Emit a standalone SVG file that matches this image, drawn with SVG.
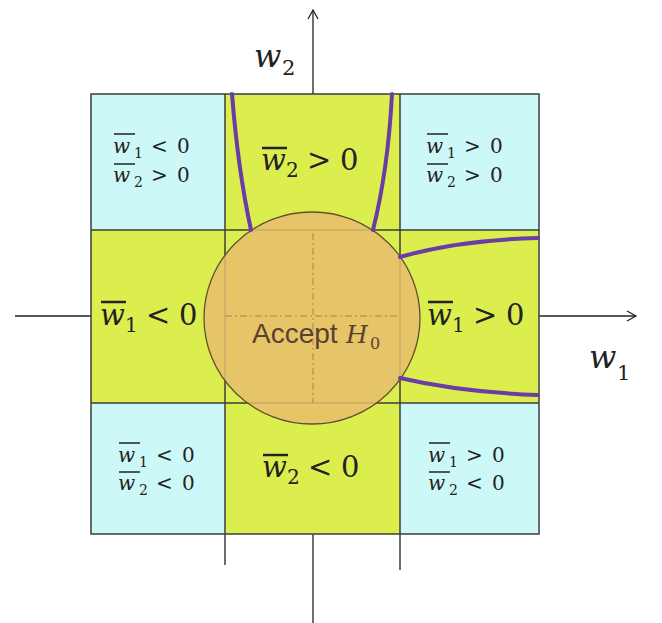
<svg xmlns="http://www.w3.org/2000/svg" width="662" height="623" viewBox="0 0 662 623">
<style>
.cy{fill:#cdf8f8}
.yg{fill:#dcee4e}
.grid{stroke:#3a3d40;stroke-width:1.5;fill:none}
.axis{stroke:#222;stroke-width:1.3;fill:none}
.purp{stroke:#6a3ca6;stroke-width:4;fill:none;stroke-linecap:round}
.m{font-family:"DejaVu Serif",serif;fill:#222}
.it{font-style:italic}
.ov{stroke:#222}
.s{font-size:20px}
.l{font-size:29px}
.ss{font-size:14px}
.ls{font-size:20px}
</style>
<rect width="662" height="623" fill="#ffffff"/>
<g id="axes">
<line class="axis" x1="313" y1="10" x2="313" y2="94"/>
<line class="axis" x1="313" y1="534" x2="313" y2="623"/>
<line class="axis" x1="15" y1="316" x2="91" y2="316"/>
<line class="axis" x1="539" y1="316" x2="636" y2="316"/>
<polyline class="axis" points="308,19 313,10 318,19"/>
<polyline class="axis" points="627,311 636,316 627,321"/>
</g>
<g id="cells">
<rect class="cy" x="91" y="94" width="134" height="136"/>
<rect class="cy" x="400" y="94" width="139" height="136"/>
<rect class="cy" x="91" y="403" width="134" height="131"/>
<rect class="cy" x="400" y="403" width="139" height="131"/>
<rect class="yg" x="225" y="94" width="175" height="440"/>
<rect class="yg" x="91" y="230" width="448" height="173"/>
</g>
<g id="grid">
<rect class="grid" x="91" y="94" width="448" height="440"/>
<line class="grid" x1="225" y1="94" x2="225" y2="565"/>
<line class="grid" x1="400" y1="94" x2="400" y2="570"/>
<line class="grid" x1="91" y1="230" x2="539" y2="230"/>
<line class="grid" x1="91" y1="403" x2="539" y2="403"/>
</g>
<g id="accept">
<ellipse cx="312" cy="318" rx="108" ry="106" fill="#e8bd6e" fill-opacity="0.85" stroke="#5e5030" stroke-width="1.3"/>
<line x1="313" y1="233" x2="313" y2="403" stroke="#a8873a" stroke-width="1" stroke-dasharray="7,3,2,3"/>
<line x1="225" y1="316" x2="400" y2="316" stroke="#a8873a" stroke-width="1" stroke-dasharray="7,3,2,3"/>
<text y="343" font-family="Liberation Sans, Arial, sans-serif" font-size="28" fill="#5a4030"><tspan x="252">Accept</tspan><tspan x="346" font-family="DejaVu Serif, serif" font-style="italic" font-size="25">H</tspan></text>
<text x="370" y="349" font-family="DejaVu Serif, serif" font-size="16" fill="#5a4030">0</text>
</g>
<g id="boundaries">
<path class="purp" d="M232,94 Q238,170 251,230"/>
<path class="purp" d="M392,94 Q388,170 373,230"/>
<path class="purp" d="M400,257 Q460,240 538,238"/>
<path class="purp" d="M400,378 Q460,392 538,395"/>
</g>
<g id="label-tl">
<text class="m s"><tspan class="it" x="113" y="153">w</tspan><tspan class="ss" x="134" y="158">1</tspan><tspan x="151" y="153">&lt;</tspan><tspan x="177" y="153">0</tspan></text>
<line class="ov" x1="114" y1="134" x2="135" y2="134" stroke-width="1.5"/>
<text class="m s"><tspan class="it" x="113" y="182">w</tspan><tspan class="ss" x="134" y="187">2</tspan><tspan x="151" y="182">&gt;</tspan><tspan x="177" y="182">0</tspan></text>
<line class="ov" x1="114" y1="164" x2="135" y2="164" stroke-width="1.5"/>
</g>
<g id="label-tr">
<text class="m s"><tspan class="it" x="426" y="153">w</tspan><tspan class="ss" x="447" y="158">1</tspan><tspan x="464" y="153">&gt;</tspan><tspan x="490" y="153">0</tspan></text>
<line class="ov" x1="427" y1="134" x2="448" y2="134" stroke-width="1.5"/>
<text class="m s"><tspan class="it" x="426" y="182">w</tspan><tspan class="ss" x="447" y="187">2</tspan><tspan x="464" y="182">&gt;</tspan><tspan x="490" y="182">0</tspan></text>
<line class="ov" x1="427" y1="164" x2="448" y2="164" stroke-width="1.5"/>
</g>
<g id="label-bl">
<text class="m s"><tspan class="it" x="118" y="462">w</tspan><tspan class="ss" x="139" y="467">1</tspan><tspan x="156" y="462">&lt;</tspan><tspan x="182" y="462">0</tspan></text>
<line class="ov" x1="119" y1="443" x2="140" y2="443" stroke-width="1.5"/>
<text class="m s"><tspan class="it" x="118" y="490">w</tspan><tspan class="ss" x="139" y="495">2</tspan><tspan x="156" y="490">&lt;</tspan><tspan x="182" y="490">0</tspan></text>
<line class="ov" x1="119" y1="472" x2="140" y2="472" stroke-width="1.5"/>
</g>
<g id="label-br">
<text class="m s"><tspan class="it" x="428" y="462">w</tspan><tspan class="ss" x="449" y="467">1</tspan><tspan x="466" y="462">&gt;</tspan><tspan x="492" y="462">0</tspan></text>
<line class="ov" x1="429" y1="443" x2="450" y2="443" stroke-width="1.5"/>
<text class="m s"><tspan class="it" x="428" y="490">w</tspan><tspan class="ss" x="449" y="495">2</tspan><tspan x="466" y="490">&lt;</tspan><tspan x="492" y="490">0</tspan></text>
<line class="ov" x1="429" y1="472" x2="450" y2="472" stroke-width="1.5"/>
</g>
<g id="label-top">
<text class="m l"><tspan class="it" x="261" y="170">w</tspan><tspan class="ls" x="286" y="177">2</tspan><tspan x="307" y="170">&gt;</tspan><tspan x="340" y="170">0</tspan></text>
<line class="ov" x1="262" y1="148" x2="287" y2="148" stroke-width="2.5"/>
</g>
<g id="label-bottom">
<text class="m l"><tspan class="it" x="262" y="477">w</tspan><tspan class="ls" x="287" y="484">2</tspan><tspan x="308" y="477">&lt;</tspan><tspan x="341" y="477">0</tspan></text>
<line class="ov" x1="263" y1="455" x2="288" y2="455" stroke-width="2.5"/>
</g>
<g id="label-left">
<text class="m l"><tspan class="it" x="100" y="325">w</tspan><tspan class="ls" x="125" y="332">1</tspan><tspan x="146" y="325">&lt;</tspan><tspan x="179" y="325">0</tspan></text>
<line class="ov" x1="101" y1="302" x2="126" y2="302" stroke-width="2.5"/>
</g>
<g id="label-right">
<text class="m l"><tspan class="it" x="427" y="325">w</tspan><tspan class="ls" x="452" y="332">1</tspan><tspan x="473" y="325">&gt;</tspan><tspan x="506" y="325">0</tspan></text>
<line class="ov" x1="428" y1="302" x2="453" y2="302" stroke-width="2.5"/>
</g>
<g id="axis-labels">
<text class="m" font-size="32"><tspan class="it" x="254" y="67">w</tspan><tspan font-size="21" x="282" y="75">2</tspan></text>
<text class="m" font-size="32"><tspan class="it" x="589" y="368">w</tspan><tspan font-size="21" x="617" y="380">1</tspan></text>
</g>
</svg>
